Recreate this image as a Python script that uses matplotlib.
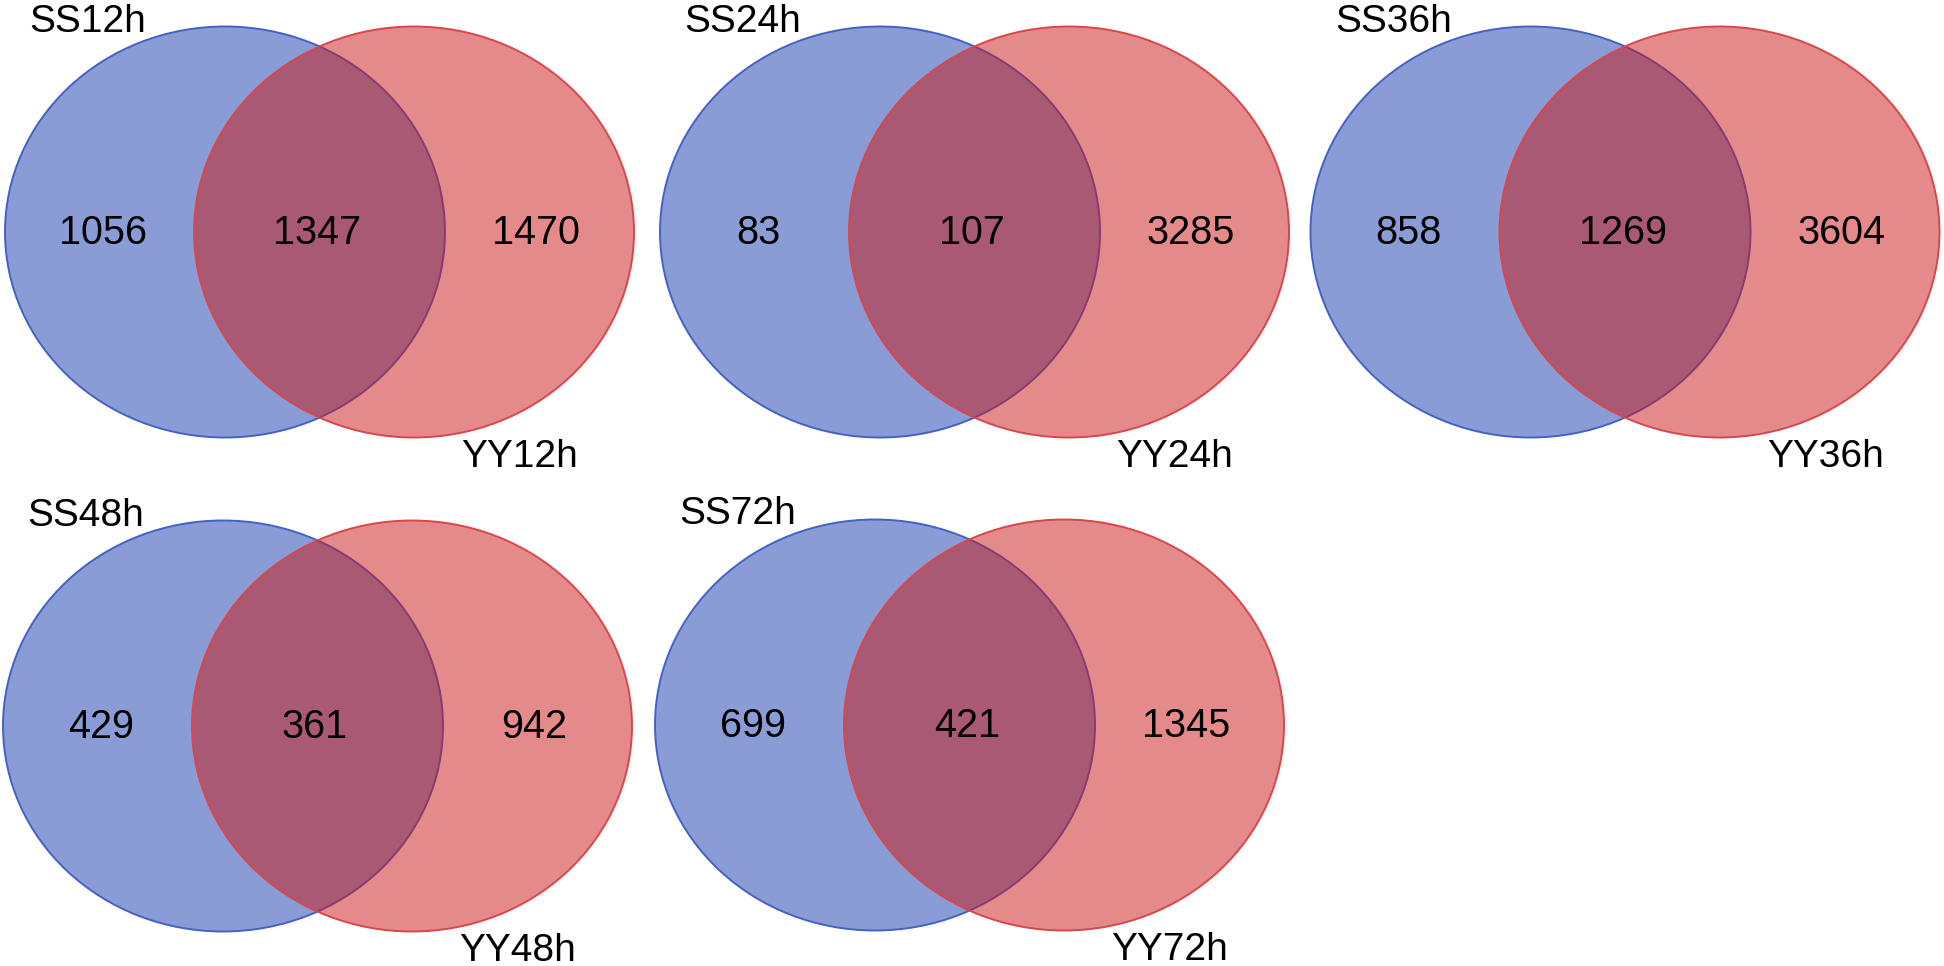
#!/usr/bin/env python3
"""Five two-set Venn diagrams (SS vs YY at 12/24/36/48/72 h) -> out.png."""
import matplotlib
matplotlib.use("Agg")
import matplotlib.pyplot as plt
from matplotlib.patches import Ellipse

plt.rcParams["font.family"] = ["Liberation Sans", "DejaVu Sans"]

# data: per time point, counts (SS only, shared, YY only)
TIMES = ["12h", "24h", "36h", "48h", "72h"]
SS_ONLY = [1056, 83, 858, 429, 699]
SHARED = [1347, 107, 1269, 361, 421]
YY_ONLY = [1470, 3285, 3604, 942, 1345]

# layout (figure pixels): top-left of each panel's bounding box
ORIGINS = [(5, 27), (660, 27), (1310.5, 27), (3, 521), (655, 520)]
W, H = 1944, 966
EW, EH = 440, 411            # ellipse width/height
BLUE_C, RED_C = (220, 205), (409, 205)
NUM_X = (98, 312, 531)
NUM_BASE = 217
SS_POS, YY_POS = (83, 4.5), (515, 440)

BLUE_FILL, RED_FILL = "#173BAD", "#CB1717"
BLUE_EDGE, RED_EDGE = "#4561C6", "#D9464B"

fig = plt.figure(figsize=(W / 100, H / 100), dpi=100)
ax = fig.add_axes([0, 0, 1, 1])
ax.set_xlim(0, W); ax.set_ylim(H, 0)
ax.axis("off")

for (ox, oy), t, a, ab, b in zip(ORIGINS, TIMES, SS_ONLY, SHARED, YY_ONLY):
    for (cx, cy), fc, ec in ((BLUE_C, BLUE_FILL, BLUE_EDGE), (RED_C, RED_FILL, RED_EDGE)):
        ax.add_patch(Ellipse((ox + cx, oy + cy), EW, EH, facecolor=fc, alpha=0.5, edgecolor="none"))
        ax.add_patch(Ellipse((ox + cx, oy + cy), EW, EH, facecolor="none", edgecolor=ec, lw=1.4))
    for x, v in zip(NUM_X, (a, ab, b)):
        ax.text(ox + x, oy + NUM_BASE, str(v), ha="center", va="baseline", fontsize=28.5)
    ax.text(ox + SS_POS[0], oy + SS_POS[1], "SS" + t, ha="center", va="baseline", fontsize=28)
    ax.text(ox + YY_POS[0], oy + YY_POS[1], "YY" + t, ha="center", va="baseline", fontsize=28)

fig.savefig("out.png", dpi=100, facecolor="white")
